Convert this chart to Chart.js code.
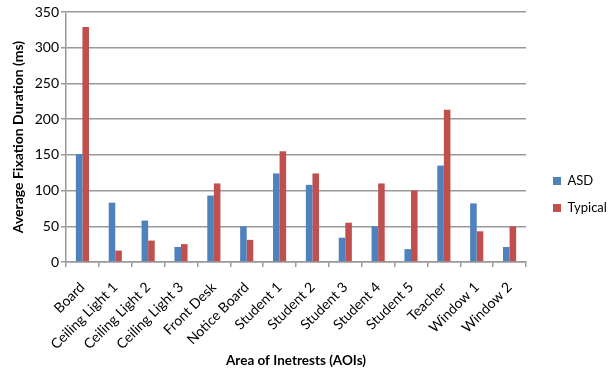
<!DOCTYPE html>
<html>
<head>
<meta charset="utf-8">
<script src="https://cdn.jsdelivr.net/npm/chart.js@4/dist/chart.umd.min.js"></script>
<style>
  html, body { margin: 0; padding: 0; background: #fff; }
  #wrap { width: 608px; height: 371px; }
</style>
</head>
<body>
<div id="wrap"><canvas id="barChart"></canvas></div>
<script>
// areas of interest
var aoiLabels = ["Board", "Ceiling Light 1", "Ceiling Light 2", "Ceiling Light 3", "Front Desk",
  "Notice Board", "Student 1", "Student 2", "Student 3", "Student 4", "Student 5",
  "Teacher", "Window 1", "Window 2"];

// average fixation duration (ms)
var asdValues     = [151, 83, 58, 21, 93, 50, 124, 108, 34, 50, 18, 135, 82, 21];
var typicalValues = [329, 16, 30, 25, 110, 31, 155, 124, 55, 110, 100, 213, 43, 50];

var yTicks = [0, 50, 100, 150, 200, 250, 300, 350];

var fontName = "Lato, 'Open Sans', sans-serif";
Chart.defaults.font.family = fontName;
Chart.defaults.color = "#000";

// legend sits a bit further right and lower than chart.js puts it
var legendFix = {
  id: "legendFix",
  afterInit: function (chart) {
    var lg = chart.legend;
    var fit = lg.fit;
    lg.fit = function () {
      fit.call(this);
      this.width = 82;
    };
  },
  afterLayout: function (chart) {
    var lg = chart.legend;
    lg.left = 539;
    lg.top += 3;
    lg.bottom += 3;
  }
};

var ctx = document.getElementById("barChart");
var barChart = new Chart(ctx, {
  type: "bar",
  data: {
    labels: aoiLabels,
    datasets: [
      { label: "ASD", data: asdValues, backgroundColor: "#4f81bd" },
      { label: "Typical", data: typicalValues, backgroundColor: "#c0504d" }
    ]
  },
  plugins: [legendFix],
  options: {
    responsive: true,
    maintainAspectRatio: false,
    animation: false,
    layout: { padding: { top: 12, left: 0, right: 0, bottom: 0 } },
    datasets: { bar: { barPercentage: 1, categoryPercentage: 0.4 } },
    plugins: {
      tooltip: { enabled: false },
      legend: {
        position: "right",
        labels: { boxWidth: 8, boxHeight: 8, padding: 14, font: { size: 13 } }
      }
    },
    scales: {
      x: {
        grid: { display: true, drawOnChartArea: false, tickLength: 5, color: "#999", lineWidth: 1.5 },
        border: { color: "#999", width: 1.5 },
        ticks: { minRotation: 45, maxRotation: 45, autoSkip: false, font: { size: 14 }, padding: 12 },
        title: { display: true, text: "Area of Inetrests (AOIs)", font: { size: 13.5, weight: "bold" }, padding: { top: 4, bottom: 2 } },
        afterFit: function (scale) { scale.height = 109; }
      },
      y: {
        min: 0,
        max: 350,
        afterBuildTicks: function (scale) {
          scale.ticks = yTicks.map(function (v) { return { value: v }; });
        },
        grid: { color: "#999", lineWidth: 1.5, tickLength: 5 },
        border: { color: "#999", width: 1.5 },
        ticks: { font: { size: 14 }, padding: 2 },
        title: { display: true, text: "Average Fixation Duration (ms)", font: { size: 14, weight: "bold" }, padding: { top: 10, bottom: 4 } },
        afterFit: function (scale) { scale.width = 66; }
      }
    }
  }
});
</script>
</body>
</html>
